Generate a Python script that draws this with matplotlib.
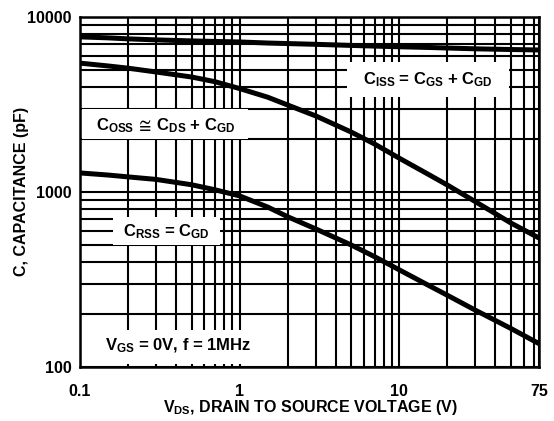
import numpy as np
import matplotlib
matplotlib.use("Agg")
import matplotlib.pyplot as plt
from matplotlib.ticker import LogLocator, NullFormatter, FixedLocator, FixedFormatter
from matplotlib.patches import Rectangle

plt.rcParams['font.family'] = ['Liberation Sans', 'DejaVu Sans']
plt.rcParams['font.weight'] = 'bold'
plt.rcParams['mathtext.fontset'] = 'custom'
plt.rcParams['mathtext.rm'] = 'Liberation Sans:bold'
plt.rcParams['mathtext.it'] = 'Liberation Sans:bold'
plt.rcParams['mathtext.bf'] = 'Liberation Sans:bold'
plt.rcParams['mathtext.fallback'] = 'stixsans'

# drain-source voltage (V)
vds = [0.1, 0.15, 0.2, 0.3, 0.5, 0.7, 1, 1.5, 2, 3, 5, 7, 10, 15, 20, 30, 50, 75]
# capacitances (pF)
c_iss = [7700, 7600, 7500, 7400, 7300, 7250, 7200, 7100, 7050, 6980, 6880, 6820,
         6760, 6700, 6650, 6580, 6520, 6480]
c_oss = [5450, 5250, 5100, 4850, 4540, 4270, 3900, 3480, 3140, 2720, 2200, 1880,
         1560, 1270, 1096, 880, 665, 546]
c_rss = [1285, 1250, 1220, 1180, 1100, 1030, 950, 820, 722, 615, 498, 427,
         359, 295, 257, 211, 166, 136]

xticks = [0.1, 1, 10, 75]
xticklabels = ["0.1", "1", "10", "75"]
yticks = [100, 1000, 10000]
yticklabels = ["100", "1000", "10000"]

fig = plt.figure(figsize=(5.54, 4.21), dpi=100)
ax = fig.add_axes([80/554, 54/421, 459/554, 350/421])
ax.set_xscale("log")
ax.set_yscale("log")
ax.set_xlim(0.1, 75)
ax.set_ylim(100, 10000)

ax.xaxis.set_major_locator(FixedLocator(xticks))
ax.xaxis.set_major_formatter(FixedFormatter(xticklabels))
ax.xaxis.set_minor_locator(LogLocator(base=10, subs=np.arange(2, 10)))
ax.xaxis.set_minor_formatter(NullFormatter())
ax.yaxis.set_major_locator(FixedLocator(yticks))
ax.yaxis.set_major_formatter(FixedFormatter(yticklabels))
ax.yaxis.set_minor_locator(LogLocator(base=10, subs=np.arange(2, 10)))
ax.yaxis.set_minor_formatter(NullFormatter())

ax.grid(which="both", color="black", lw=1.5, zorder=1)
ax.set_axisbelow(True)
ax.tick_params(which="both", length=0, labelsize=11.5)
ax.tick_params(axis="x", pad=12)
ax.tick_params(axis="y", pad=6)
for s in ax.spines.values():
    s.set_linewidth(1.8)

# white label boxes that hide the grid
def label_box(x0, y0, x1, y1, tx, ty, txt):
    ax.add_patch(Rectangle((x0, y0), x1 - x0, y1 - y0, transform=ax.transAxes,
                           facecolor="white", edgecolor="none", zorder=2))
    ax.text(tx, ty, txt, transform=ax.transAxes, ha="center", va="center",
            fontsize=12, fontweight="bold", zorder=3)

label_box(0.004, 0.651, 0.366, 0.737, 0.187, 0.69, r"C$_{\rm OSS}\,\cong\,$C$_{\rm DS}$ + C$_{\rm GD}$")
label_box(0.582, 0.771, 0.935, 0.871, 0.758, 0.82, r"C$_{\rm ISS}$ = C$_{\rm GS}$ + C$_{\rm GD}$")
label_box(0.072, 0.349, 0.305, 0.429, 0.187, 0.386, r"C$_{\rm RSS}$ = C$_{\rm GD}$")
label_box(0.004, 0.009, 0.381, 0.106, 0.213, 0.06, r"V$_{\rm GS}$ = 0V, f = 1MHz")

ax.plot(vds, c_iss, color="black", lw=3.6, zorder=4, solid_joinstyle="round")
ax.plot(vds, c_oss, color="black", lw=3.6, zorder=4, solid_joinstyle="round")
ax.plot(vds, c_rss, color="black", lw=3.6, zorder=4, solid_joinstyle="round")

ax.set_xlabel(r"V$_{\rm DS}$, DRAIN TO SOURCE VOLTAGE (V)", fontsize=11.5, fontweight="bold")
ax.set_ylabel("C, CAPACITANCE (pF)", fontsize=11.5, fontweight="bold")
ax.xaxis.label.set_va("center")
ax.yaxis.label.set_va("center")
ax.xaxis.set_label_coords(0.501, -0.117)
ax.yaxis.set_label_coords(-0.1285, 0.503)

fig.savefig("out.png", dpi=100)
